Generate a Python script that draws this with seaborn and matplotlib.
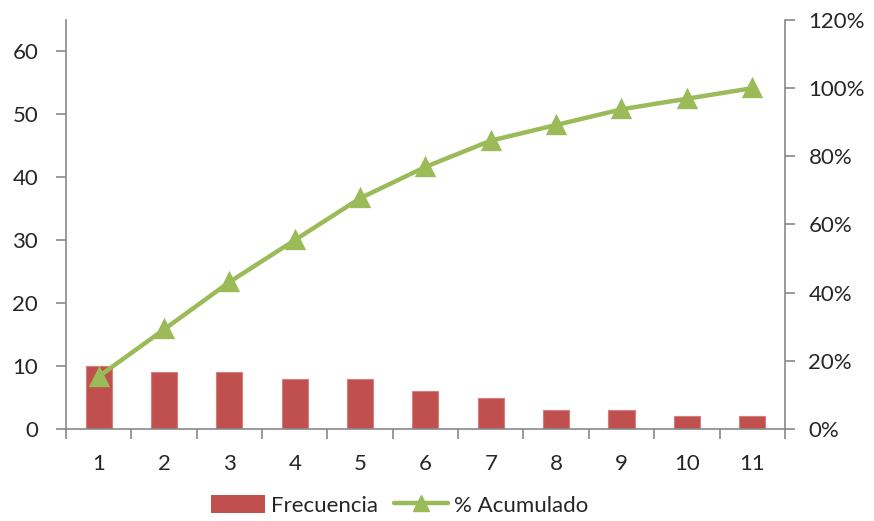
import pandas as pd
import matplotlib
matplotlib.use("Agg")
import matplotlib.pyplot as plt
import seaborn as sns
from matplotlib.ticker import PercentFormatter, FixedLocator
from matplotlib.lines import Line2D
from matplotlib.patches import Patch

# data
categorias = ["1", "2", "3", "4", "5", "6", "7", "8", "9", "10", "11"]
frecuencia = [10, 9, 9, 8, 8, 6, 5, 3, 3, 2, 2]
acumulado = [0.154, 0.292, 0.431, 0.554, 0.677, 0.769, 0.846, 0.892, 0.938, 0.969, 1.0]

df = pd.DataFrame({"cat": categorias, "Frecuencia": frecuencia, "Acumulado": acumulado})

sns.set_style("white")
plt.rcParams["font.family"] = ["Lato", "DejaVu Sans"]

bar_color = "#C0504D"
line_color = "#9BBB59"
axis_gray = "#898989"

fig = plt.figure(figsize=(8.74, 5.21), dpi=100)
ax = fig.add_axes([0.0755, 0.1766, 0.898 - 0.0755, 0.9616 - 0.1766])

sns.barplot(data=df, x="cat", y="Frecuencia", color=bar_color, saturation=1, width=0.4,
            edgecolor="#D27F7D", linewidth=0.8, ax=ax)
ax.set_xlim(-0.5, 10.5)
ax.set_ylim(0, 65)
ax.set_yticks(range(0, 61, 10))

ax2 = ax.twinx()
sns.pointplot(data=df, x="cat", y="Acumulado", color=line_color, markers="^",
              linewidth=3.2, markersize=11, ax=ax2)
ax2.set_xlim(-0.5, 10.5)
ax2.set_ylim(0, 1.2)
ax2.set_yticks([0, 0.2, 0.4, 0.6, 0.8, 1.0, 1.2])
ax2.yaxis.set_major_formatter(PercentFormatter(1.0, decimals=0))

for a in (ax, ax2):
    a.set_xlabel("")
    a.set_ylabel("")
    for s in a.spines.values():
        s.set_color(axis_gray)
        s.set_linewidth(1.2)
    a.spines["top"].set_visible(False)

ax.spines["right"].set_visible(False)
ax2.spines["left"].set_visible(False)
ax2.spines["bottom"].set_visible(False)

ax.tick_params(axis="y", direction="out", length=7, width=1.2, color=axis_gray,
               labelsize=16, pad=13, left=True)
ax2.tick_params(axis="y", direction="out", length=7, width=1.2, color=axis_gray,
                labelsize=16, pad=10, right=True)
ax.tick_params(axis="x", which="major", length=0, labelsize=16, pad=18)
ax.xaxis.set_minor_locator(FixedLocator([i - 0.5 for i in range(12)]))
ax.tick_params(axis="x", which="minor", direction="out", length=7, width=1.2,
               color=axis_gray, bottom=True)

handles = [Patch(facecolor=bar_color, edgecolor="none"),
           Line2D([], [], color=line_color, linewidth=3.2, marker="^", markersize=11)]
fig.legend(handles, ["Frecuencia", "% Acumulado"], loc="center", ncol=2,
           bbox_to_anchor=(0.457, 0.03), frameon=False, fontsize=16,
           handlelength=2.45, handleheight=0.9, handletextpad=0.25, columnspacing=0.7)

fig.savefig("out.png", dpi=100)
